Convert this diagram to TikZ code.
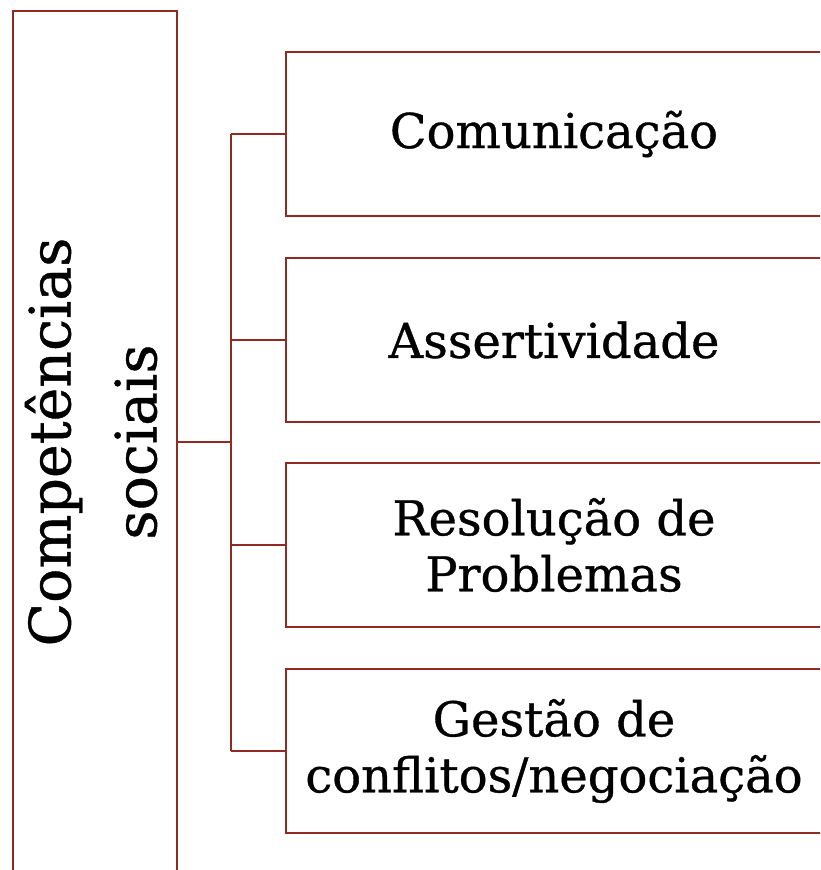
\documentclass[tikz,border=0pt]{standalone}
\usepackage{fontspec}
\setmainfont{DejaVu Serif}[FakeBold=0.7]
\definecolor{linered}{RGB}{145,42,32}
\begin{document}
\begin{tikzpicture}[x=1pt,y=-1pt,
  boxline/.style={draw=linered, line width=2pt},
  itembox/.style={boxline, rectangle, minimum width=540pt, minimum height=164pt, inner sep=0pt},
  itemtext/.style={align=center, inner sep=0pt, font=\fontsize{48}{56}\selectfont},
  conn/.style={draw=linered, line width=2pt}]
\useasboundingbox (0,0) rectangle (820,870);
\clip (0,0) rectangle (820,870);
\fill[white] (0,0) rectangle (820,870);
% left box
\node[boxline, rectangle, minimum width=164pt, minimum height=894pt, inner sep=0pt] (main) at (95,458) {};
\node[rotate=90, align=center, inner sep=0pt, font=\fontsize{57}{86}\selectfont] (maintext) at (91,442) {Competências\\sociais};
% right boxes
\node[itembox] (b1) at (556,134) {};
\node[itembox] (b2) at (556,340) {};
\node[itembox] (b3) at (556,545) {};
\node[itembox] (b4) at (556,751) {};
\node[itemtext] (t1) at (554,134) {Comunicação};
\node[itemtext] (t2) at (554,340) {Assertividade};
\node[itemtext] (t3) at (554,545) {Resolução de\\Problemas};
\node[itemtext] (t4) at (554,751) {Gestão de\\conflitos/negociação};
% connectors
\coordinate (j) at (231,442);
\draw[conn] (main.east |- j) -- (j);
\draw[conn] (b1.west -| j) -- (b4.west -| j);
\foreach \i in {1,...,4} \draw[conn] (b\i.west -| j) -- (b\i.west);
\end{tikzpicture}
\end{document}
